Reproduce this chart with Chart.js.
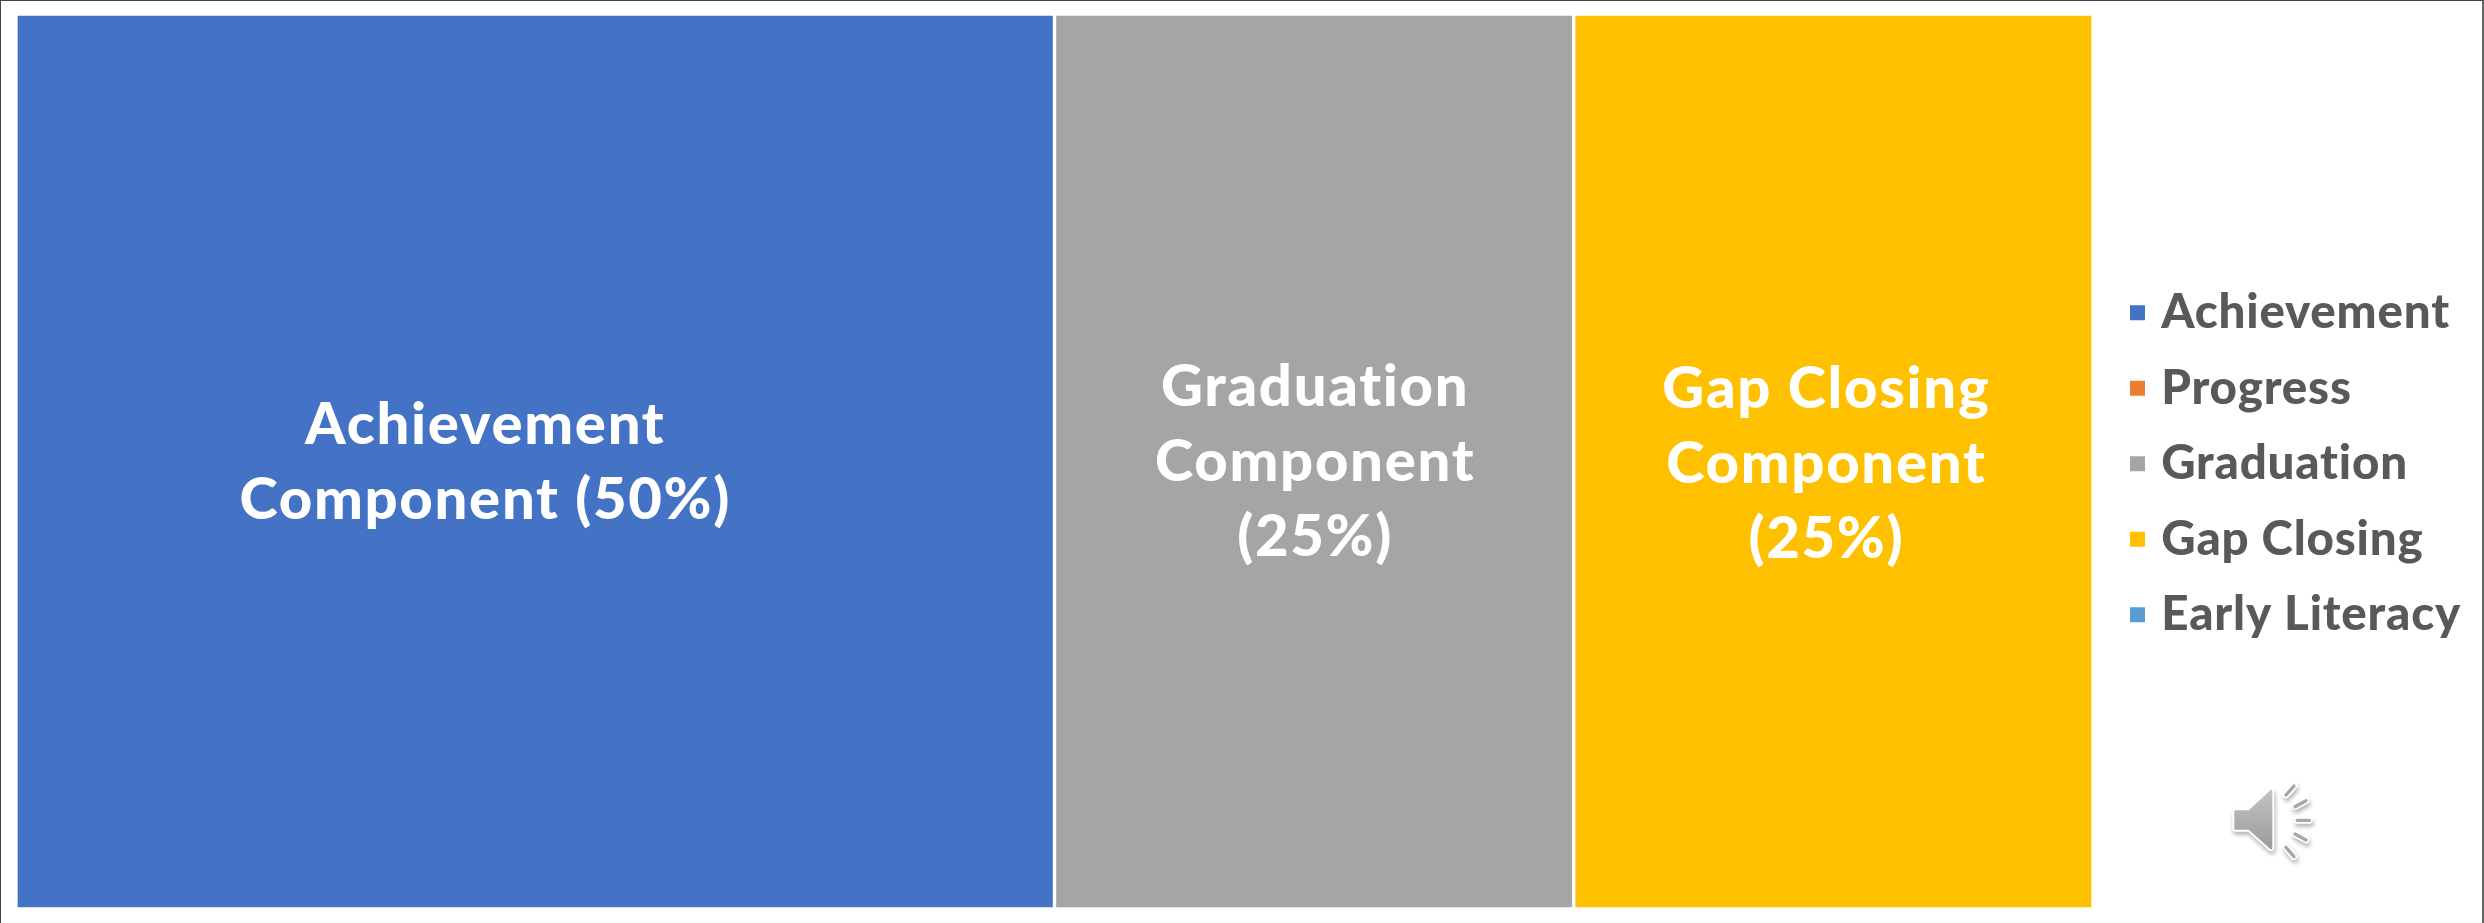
<!DOCTYPE html>
<html>
<head>
<meta charset="utf-8">
<title>Report card components</title>
<script src="https://cdn.jsdelivr.net/npm/chart.js@4"></script>
<style>
    html, body { margin: 0; padding: 0; background: #fff; }
    #wrap { position: relative; width: 2484px; height: 923px; overflow: hidden; }
    #frame { position: absolute; left: 0; top: 0; width: 2481px; height: 923px; border-top: 1px solid #444; border-left: 1px solid #444; border-right: 2px solid #666; box-sizing: content-box; pointer-events: none; }
    #speaker { position: absolute; left: 2180px; top: 760px; filter: drop-shadow(1px 3px 2px rgba(0,0,0,.3)); }
</style>
</head>
<body>
<div id="wrap">
    <canvas id="chart" width="2484" height="923"></canvas>
    <div id="frame"></div>
    <!-- audio icon from the slide, not part of the chart -->
    <svg id="speaker" width="180" height="120" viewBox="0 0 540 360">
        <defs>
            <linearGradient id="grey" x1="0" y1="0" x2="0" y2="1">
                <stop offset="0" stop-color="#c4c4c4"/>
                <stop offset="1" stop-color="#9a9a9a"/>
            </linearGradient>
        </defs>
        <path d="M166 148 H205 L270 88 Q280 84 280 96 V262 Q280 274 270 270 L205 212 H166 Q160 212 160 206 V154 Q160 148 166 148 Z"
              fill="url(#grey)" stroke="#fff" stroke-width="6" stroke-linejoin="round"/>
        <g stroke-linecap="round">
            <g stroke="#fff" stroke-width="21">
                <path d="M318 105 L342 78"/><path d="M345 140 L378 122"/><path d="M352 181 L388 181"/>
                <path d="M345 222 L378 240"/><path d="M318 262 L342 290"/>
            </g>
            <g stroke="#a6a6a6" stroke-width="10">
                <path d="M318 105 L342 78"/><path d="M345 140 L378 122"/><path d="M352 181 L388 181"/>
                <path d="M345 222 L378 240"/><path d="M318 262 L342 290"/>
            </g>
        </g>
    </svg>
</div>
<script>
const seriesNames = ['Achievement', 'Progress', 'Graduation', 'Gap Closing', 'Early Literacy'];
const seriesValues = [50, 0, 25, 25, 0];
const seriesColors = ['#4472C4', '#ED7D31', '#A5A5A5', '#FFC000', '#5B9BD5'];
const blockLabels = [['Achievement', 'Component (50%)'], [], ['Graduation', 'Component', '(25%)'], ['Gap Closing', 'Component', '(25%)'], []];

// hand placed labels in the original, offset from the block centre
const labelShiftX = [-50, 0, 1, -7, 0];
const labelShiftY = [1, 0, 0, 2, 0];
const FONT = 'Lato, Carlito, sans-serif';

const blockLabelPlugin = {
    id: 'blockLabels',
    afterDatasetsDraw(chart) {
        const ctx = chart.ctx;
        ctx.save();
        ctx.fillStyle = '#fff';
        ctx.font = '900 58px ' + FONT;
        ctx.letterSpacing = '1.7px';
        ctx.textAlign = 'center';
        ctx.textBaseline = 'alphabetic';
        blockLabels.forEach((lines, i) => {
            const bar = chart.getDatasetMeta(i).data[0];
            const c = bar.getCenterPoint();
            lines.forEach((line, n) => {
                const y = c.y + 19 + labelShiftY[i] + (n - (lines.length - 1) / 2) * 75;
                ctx.fillText(line, c.x + labelShiftX[i], y);
            });
        });
        ctx.restore();
    },
};

// Lato runs narrower than the original font; set here because the canvas
// context gets reset while the chart initialises
const legendNudge = {
    id: 'legendNudge',
    beforeLayout(chart) { chart.ctx.letterSpacing = '0.8px'; },
    afterLayout(chart) {
        chart.legend.left += 16.5;
        chart.legend.right += 16.5;
        chart.legend.top += 4.5;
    },
};

new Chart(document.getElementById('chart').getContext('2d'), {
    type: 'bar',
    data: {
        labels: ['Components'],
        datasets: seriesNames.map((name, i) => ({
            label: name,
            data: [seriesValues[i]],
            backgroundColor: seriesColors[i],
            borderColor: '#fff',
            borderWidth: 2,
            borderSkipped: false,
            barPercentage: 1,
            categoryPercentage: 1,
        })),
    },
    options: {
        indexAxis: 'y',
        responsive: false,
        animation: false,
        devicePixelRatio: 1,
        layout: { padding: { left: 16, top: 14, bottom: 14, right: 29.5 } },
        scales: {
            x: { stacked: true, display: false, min: 0, max: 100 },
            y: { stacked: true, display: false },
        },
        plugins: {
            tooltip: { enabled: false },
            legend: {
                position: 'right',
                labels: {
                    color: '#595959',
                    font: { family: FONT, size: 47.5, weight: '900' },
                    usePointStyle: true,
                    pointStyle: 'rect',
                    boxWidth: 0.01,
                    boxHeight: 17,
                    padding: 28,
                },
            },
        },
    },
    plugins: [blockLabelPlugin, legendNudge],
});
</script>
</body>
</html>
